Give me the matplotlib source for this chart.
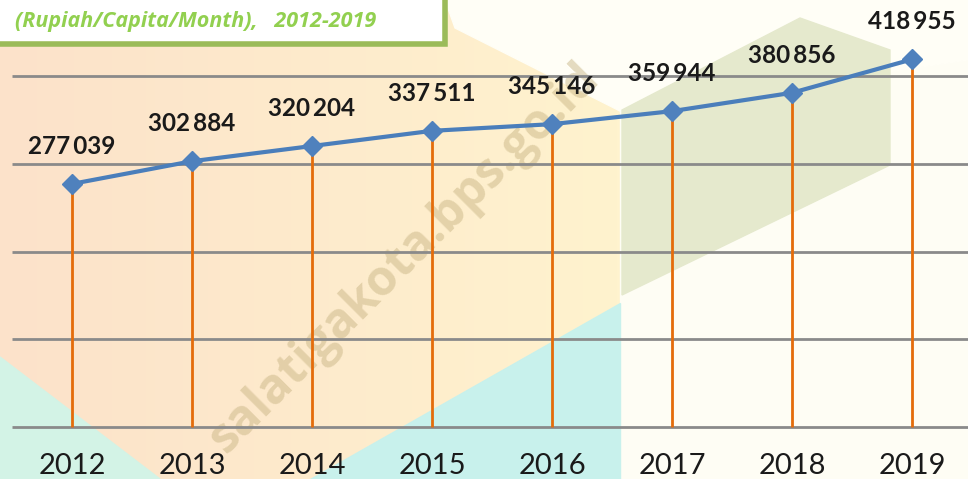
import matplotlib.pyplot as plt
import numpy as np
from matplotlib.patches import Polygon, Rectangle

# data
years = [2012, 2013, 2014, 2015, 2016, 2017, 2018, 2019]
values = [277039, 302884, 320204, 337511, 345146, 359944, 380856, 418955]
labels = ["277\u2009039", "302\u2009884", "320\u2009204", "337\u2009511",
          "345\u2009146", "359\u2009944", "380\u2009856", "418\u2009955"]
grid_vals = [0, 100000, 200000, 300000, 400000]

W, H = 968, 479
fig = plt.figure(figsize=(W / 100, H / 100), dpi=100)

# background decoration (pixel coords)
bg = fig.add_axes([0, 0, 1, 1], zorder=0)
bg.set_xlim(0, W)
bg.set_ylim(H, 0)
bg.axis('off')

# left part: peach -> yellow gradient
c0 = np.array([252, 226, 202]) / 255
c1 = np.array([255, 243, 206]) / 255
t = np.linspace(0, 1, 200)[None, :, None]
grad = c0 * (1 - t) + c1 * t
bg.imshow(grad, extent=[0, 620, H, 0], aspect='auto', zorder=0)
bg.add_patch(Rectangle((620, 0), W - 620, H, color='#fefdf4', zorder=1))
# white band along the top
bg.add_patch(Polygon([(445, 0), (W, 0), (W, 60), (622, 112), (455, 28)],
                     color='#fffef6', zorder=1))
# cyan areas
bg.add_patch(Polygon([(0, 357), (160, H), (0, H)], color='#d3f3e6', zorder=2))
bg.add_patch(Polygon([(620, 303), (620, H), (310, H)], color='#c8f1ec', zorder=2))
# gray-green block
bg.add_patch(Polygon([(622, 110), (800, 18), (890, 50), (890, 165), (622, 295)],
                     color='#e5e9cd', zorder=2))

# watermark
bg.text(405, 258, "salatigakota.bps.go.id", rotation=45, ha='center', va='center',
        fontsize=35, fontweight='bold', color='#c4b07e', alpha=0.45,
        family='Open Sans', zorder=3)

# title box
bg.add_patch(Rectangle((-10, -10), 455, 54, facecolor='white', edgecolor='#9bbb59',
                       linewidth=4, zorder=4))
bg.text(15, 21, "(Rupiah/Capita/Month),   2012-2019", ha='left', va='center',
        fontsize=15.5, fontstyle='italic', fontweight='bold', color='#92d050',
        family='Open Sans', zorder=5)

# main chart
ax = fig.add_axes([0, 0, 1, 1], zorder=1)
ax.patch.set_alpha(0)
ax.set_xlim(2011.4, 2019.4667)
ax.set_ylim(-59259, 486610)
for s in ax.spines.values():
    s.set_visible(False)
ax.set_xticks([])
ax.set_yticks([])

for g in grid_vals:
    ax.hlines(g, 2011.5, 2019.4667, color='#8a8a8a', linewidth=2, zorder=1)

ax.vlines(years, 0, values, color='#e46c0a', linewidth=2, zorder=2)
ax.plot(years, values, color='#4a7ebb', linewidth=3, marker='D', markersize=10,
        markerfacecolor='#4f81bd', markeredgecolor='#4f81bd', zorder=3)

for x, y, lab in zip(years, values, labels):
    ax.annotate(lab, (x, y), xytext=(0, 27), textcoords='offset points',
                ha='center', va='center', fontsize=17.5, fontweight='bold',
                color='#1a1a1a', family=['Lato', 'DejaVu Sans'])

for x in years:
    ax.text(x, 0.027, str(x), transform=ax.get_xaxis_transform(), ha='center',
            va='center', fontsize=21, color='#1a1a1a', family='Lato')

fig.savefig('out.png', dpi=100)
